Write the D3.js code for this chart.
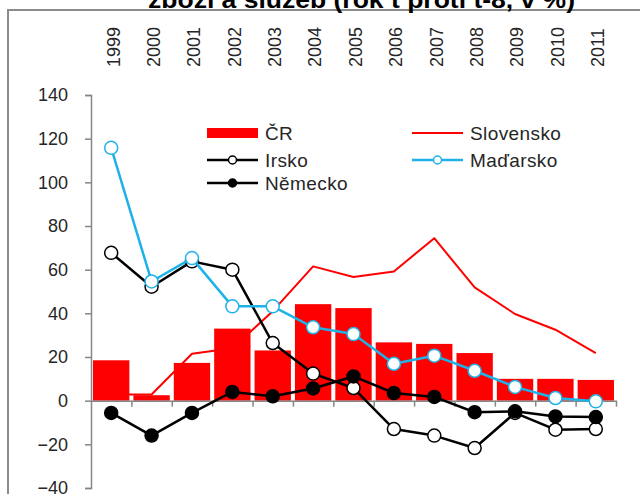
<!DOCTYPE html>
<html>
<head>
<meta charset="utf-8">
<script src="https://cdn.jsdelivr.net/npm/d3@7"></script>
<style>
  body { margin: 0; background: #fff; }
  svg { display: block; font-family: 'Liberation Sans', Arial, sans-serif; }
</style>
</head>
<body>
<svg></svg>
<script>
const years = ['1999', '2000', '2001', '2002', '2003', '2004', '2005', '2006', '2007', '2008', '2009', '2010', '2011'];
const cr = [18.5, 2.5, 17.3, 33, 23, 44.2, 42.4, 26.7, 26, 21.8, 10, 10, 9.5];
const slovensko = [2.8, 2.8, 21.5, 24, 41, 61.5, 56.6, 59.2, 74.4, 51.9, 39.7, 32.5, 21.8];
const irsko = [67.7, 52.2, 63.8, 60, 26.4, 12.4, 5.8, -13, -16, -21.7, -5.6, -13.3, -13];
const madarsko = [115.8, 54.6, 65.3, 43.2, 43.2, 33.6, 30.5, 16.9, 20.6, 13.7, 6.3, 1.2, -0.3];
const nemecko = [-5.6, -16, -5.6, 4, 2, 5.6, 11.1, 3.5, 1.7, -5.3, -4.9, -7.2, -7.5];
const yTicks = [-40, -20, 0, 20, 40, 60, 80, 100, 120, 140];

const svg = d3.select('svg')
	.attr('width', 640)
	.attr('height', 494);

const textColor = '#262626',
	axisColor = '#868686',
	red = '#ff0000',
	cyan = '#1fb2e8';

// outer frame and cut-off title
svg.append('path')
	.attr('d', 'M8,494 V10 H640')
	.attr('fill', 'none')
	.attr('stroke', '#8c8c8c')
	.attr('stroke-width', 2);

svg.append('text')
	.attr('x', 148)
	.attr('y', 8)
	.attr('textLength', 427)
	.attr('lengthAdjust', 'spacingAndGlyphs')
	.attr('font-size', 24)
	.attr('font-weight', 'bold')
	.attr('fill', '#000')
	.text('zboží a služeb (rok t proti t-8, v %)');

const x = d3.scaleBand()
	.domain(years)
	.range([91, 616])
	.paddingInner(0.1)
	.paddingOuter(0.05);

const xEdges = d3.scaleLinear()
	.domain([0, years.length])
	.range([91, 616]);

const y = d3.scaleLinear()
	.domain([-40, 140])
	.range([488, 95]);

const cx = (d, i) => x(years[i]) + x.bandwidth() / 2;

// bars
svg.append('g')
	.selectAll('rect')
	.data(cr)
	.enter()
	.append('rect')
		.attr('x', (d, i) => x(years[i]))
		.attr('y', d => y(Math.max(0, d)))
		.attr('width', x.bandwidth())
		.attr('height', d => Math.abs(y(d) - y(0)))
		.attr('fill', red);

// y axis
const yAxisG = svg.append('g')
	.attr('transform', 'translate(91,0)')
	.call(d3.axisLeft(y).tickValues(yTicks).tickSize(6).tickPadding(17));
yAxisG.selectAll('line, path').attr('stroke', axisColor).attr('stroke-width', 1.5);
yAxisG.selectAll('text')
	.attr('fill', textColor)
	.attr('font-size', 18)
	.attr('font-family', 'Liberation Sans, Arial, sans-serif');

// x axis at zero
const xAxisG = svg.append('g')
	.attr('transform', `translate(0,${y(0)})`)
	.call(d3.axisBottom(xEdges).tickValues(d3.range(1, years.length + 1)).tickSize(6).tickSizeOuter(0).tickFormat(''));
xAxisG.selectAll('line, path').attr('stroke', axisColor).attr('stroke-width', 1.5);

// year labels at the top
const topG = svg.append('g')
	.attr('transform', 'translate(0,67)')
	.call(d3.axisTop(x).tickSize(0));
topG.select('.domain').remove();
topG.selectAll('text')
	.attr('transform', 'rotate(-90)')
	.attr('x', 0)
	.attr('y', 2)
	.attr('dy', '0.35em')
	.attr('text-anchor', 'start')
	.attr('fill', textColor)
	.attr('font-size', 18)
	.attr('font-family', 'Liberation Sans, Arial, sans-serif');

const line = d3.line()
	.x((d, i) => cx(d, i))
	.y(d => y(d));

const series = [
	{ name: 'Slovensko', values: slovensko, stroke: red, width: 2, marker: null },
	{ name: 'Irsko', values: irsko, stroke: '#000', width: 2.5, marker: '#fff', mStroke: '#000' },
	{ name: 'Maďarsko', values: madarsko, stroke: cyan, width: 2.5, marker: '#fff', mStroke: cyan },
	{ name: 'Německo', values: nemecko, stroke: '#000', width: 2.5, marker: '#000', mStroke: '#000' }
];

series.forEach(s => {
	svg.append('path')
		.datum(s.values)
		.attr('d', line)
		.attr('fill', 'none')
		.attr('stroke', s.stroke)
		.attr('stroke-width', s.width)
		.attr('stroke-linejoin', 'round');
	if (s.marker) {
		svg.append('g')
			.selectAll('circle')
			.data(s.values)
			.enter()
			.append('circle')
				.attr('cx', cx)
				.attr('cy', d => y(d))
				.attr('r', 6.5)
				.attr('fill', s.marker)
				.attr('stroke', s.mStroke)
				.attr('stroke-width', 1.5);
	}
});

// legend
const legendItems = [
	{ name: 'ČR', type: 'bar', x: 207, y: 133 },
	{ name: 'Irsko', s: series[1], x: 207, y: 160 },
	{ name: 'Německo', s: series[3], x: 207, y: 183 },
	{ name: 'Slovensko', s: series[0], x: 412, y: 133 },
	{ name: 'Maďarsko', s: series[2], x: 412, y: 160 }
];

const lg = svg.append('g').selectAll('g')
	.data(legendItems)
	.enter()
	.append('g')
		.attr('transform', d => `translate(${d.x},${d.y})`);

lg.filter(d => d.type === 'bar')
	.append('rect')
		.attr('x', 0)
		.attr('y', -5)
		.attr('width', 51)
		.attr('height', 10)
		.attr('fill', red);

lg.filter(d => d.s)
	.append('line')
		.attr('x1', 0)
		.attr('x2', 51)
		.attr('stroke', d => d.s.stroke)
		.attr('stroke-width', d => d.s.width);

lg.filter(d => d.s && d.s.marker)
	.append('circle')
		.attr('cx', 25.5)
		.attr('r', 4)
		.attr('fill', d => d.s.marker)
		.attr('stroke', d => d.s.mStroke)
		.attr('stroke-width', 1.5);

lg.append('text')
	.attr('x', 58)
	.attr('dy', '0.36em')
	.attr('font-size', 19)
	.attr('letter-spacing', 0.4)
	.attr('fill', textColor)
	.text(d => d.name);
</script>
</body>
</html>
